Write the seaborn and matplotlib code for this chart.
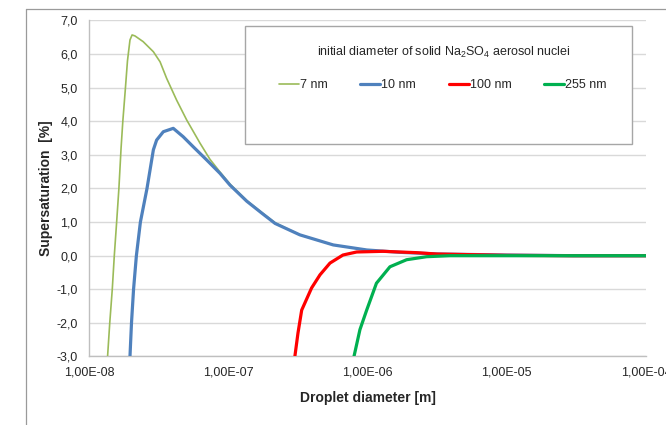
"""
Supersaturation vs droplet diameter (Köhler curves) for Na2SO4 nuclei
"""

import matplotlib.pyplot as plt
import seaborn as sns
import pandas as pd
import numpy as np
from matplotlib.lines import Line2D
from matplotlib.patches import Rectangle

# droplet diameter [m] / supersaturation [%]
d_7nm = [1.36e-8, 1.41e-8, 1.47e-8, 1.52e-8, 1.58e-8, 1.64e-8, 1.70e-8, 1.75e-8,
         1.82e-8, 1.89e-8, 1.97e-8, 2.04e-8, 2.14e-8, 2.45e-8, 2.90e-8, 3.24e-8,
         3.61e-8, 4.26e-8, 5.03e-8, 6.27e-8, 7.39e-8, 8.73e-8, 1.03e-7, 1.36e-7,
         1.75e-7, 2.17e-7, 3.27e-7, 5.68e-7, 9.9e-7, 1.71e-6, 3.2e-6, 1.0e-5,
         3.0e-5, 1.0e-4]
s_7nm = [-3.0, -2.0, -1.0, 0.0, 1.0, 2.0, 3.2, 4.0,
         4.9, 5.8, 6.42, 6.57, 6.54, 6.37, 6.07, 5.77,
         5.28, 4.63, 4.04, 3.35, 2.87, 2.49, 2.13, 1.64,
         1.28, 0.98, 0.62, 0.32, 0.17, 0.10, 0.05, 0.02,
         0.0, 0.0]

d_10nm = [1.97e-8, 2.02e-8, 2.09e-8, 2.19e-8, 2.34e-8, 2.61e-8, 2.90e-8,
          3.06e-8, 3.42e-8, 4.03e-8, 4.75e-8, 5.61e-8, 7.00e-8, 8.73e-8, 1.03e-7,
          1.36e-7, 1.75e-7, 2.17e-7, 3.27e-7, 5.68e-7, 9.9e-7, 1.71e-6, 3.2e-6,
          1.0e-5, 3.0e-5, 1.0e-4]
s_10nm = [-3.0, -2.0, -1.0, 0.0, 1.0, 2.0, 3.15,
          3.44, 3.69, 3.79, 3.54, 3.24, 2.85, 2.45, 2.10,
          1.62, 1.26, 0.96, 0.62, 0.32, 0.17, 0.10, 0.05,
          0.02, 0.0, 0.0]

d_100nm = [3.01e-7, 3.17e-7, 3.37e-7, 3.97e-7, 4.56e-7, 5.38e-7, 6.67e-7, 8.36e-7,
           1.29e-6, 2.26e-6, 3.14e-6, 1.0e-5, 3.0e-5, 1.0e-4]
s_100nm = [-3.0, -2.3, -1.62, -0.96, -0.57, -0.22, 0.02, 0.11,
           0.13, 0.09, 0.05, 0.01, 0.0, 0.0]

d_255nm = [8.0e-7, 8.83e-7, 9.87e-7, 1.16e-6, 1.45e-6, 1.91e-6, 2.66e-6, 3.91e-6,
           1.0e-5, 1.0e-4]
s_255nm = [-3.0, -2.2, -1.62, -0.82, -0.33, -0.12, -0.03, 0.0,
           0.0, 0.0]

labels = ["7 nm", "10 nm", "100 nm", "255 nm"]
colors = ["#9BBB59", "#4F81BD", "#FF0000", "#00B050"]
widths = [1.2, 2.3, 2.3, 2.3]

x_ticks = [1e-8, 1e-7, 1e-6, 1e-5, 1e-4]
y_ticks = [-3, -2, -1, 0, 1, 2, 3, 4, 5, 6, 7]

sns.set_style("white")
plt.rcParams['font.family'] = ['Liberation Sans', 'DejaVu Sans']
plt.rcParams['mathtext.fontset'] = 'custom'
plt.rcParams['mathtext.rm'] = 'Liberation Sans'

fig = plt.figure(figsize=(6.66, 4.25), dpi=100)
ax = fig.add_axes([0.1336, 0.1612, 0.8363, 0.7906])

series = [(d_7nm, s_7nm), (d_10nm, s_10nm), (d_100nm, s_100nm), (d_255nm, s_255nm)]
handles = []
for (d, s), lab, c, lw in zip(series, labels, colors, widths):
    df = pd.DataFrame({"d": d, "s": s})
    sns.lineplot(data=df, x="d", y="s", ax=ax, color=c, linewidth=lw,
                 sort=False, zorder=3)
    handles.append(Line2D([], [], color=c, linewidth=lw, label=lab))

ax.set_xscale("log")
ax.set_xlim(1e-8, 1e-4)
ax.set_ylim(-3, 7)
ax.set_xticks(x_ticks)
ax.set_xticklabels([f"{v:.2E}".replace(".", ",") for v in x_ticks])
ax.xaxis.set_minor_locator(plt.NullLocator())
ax.set_yticks(y_ticks)
ax.set_yticklabels([f"{v:.1f}".replace(".", ",") for v in y_ticks])

ax.yaxis.grid(True, color="#D9D9D9", linewidth=1.0)
ax.xaxis.grid(False)
for side in ["top", "right"]:
    ax.spines[side].set_visible(False)
for side in ["left", "bottom"]:
    ax.spines[side].set_color("#BFBFBF")
    ax.spines[side].set_linewidth(1.0)
ax.tick_params(axis="both", which="major", direction="out", length=3,
               width=1.0, color="#BFBFBF", labelsize=9, labelcolor="#262626")
ax.tick_params(axis="x", pad=4)
ax.tick_params(axis="y", pad=5)

ax.set_xlabel("Droplet diameter [m]", fontsize=10, fontweight="bold")
ax.set_ylabel("Supersaturation  [%]", fontsize=10, fontweight="bold")
ax.xaxis.set_label_coords(0.5, -0.103)
ax.yaxis.set_label_coords(-0.064, 0.5)

# legend box (drawn by hand to match the tall Excel frame)
ax.add_patch(Rectangle((0.280, 0.632), 0.695, 0.352, transform=ax.transAxes,
                       facecolor="white", edgecolor="#A6A6A6", linewidth=1.0,
                       zorder=5, clip_on=False))
ax.text(0.637, 0.906,
        r"initial diameter of solid Na$_\mathregular{2}$SO$_\mathregular{4}$ aerosol nuclei",
        transform=ax.transAxes, ha="center", va="center", fontsize=9,
        color="#262626", zorder=6)
leg = ax.legend(handles=handles, loc="center", bbox_to_anchor=(0.635, 0.808),
                ncol=4, frameon=False, fontsize=9, handlelength=1.6,
                handletextpad=0.1, columnspacing=2.6)
leg.set_zorder(6)
for t in leg.get_texts():
    t.set_color("#262626")

# outer chart frame, cropped at right and bottom
fx = 26 / 666
fy = 1 - 9 / 425
fig.add_artist(Line2D([fx, fx], [0, fy], color="#9A9A9A", linewidth=0.9,
                      transform=fig.transFigure))
fig.add_artist(Line2D([fx, 1], [fy, fy], color="#9A9A9A", linewidth=0.9,
                      transform=fig.transFigure))

fig.savefig("out.png", dpi=100)
